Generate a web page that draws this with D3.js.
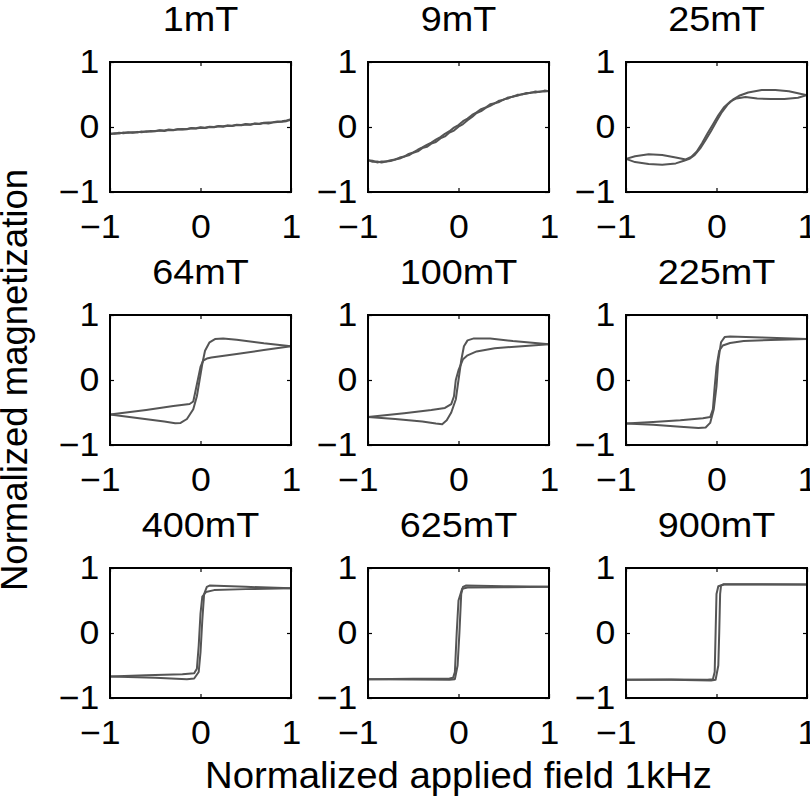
<!DOCTYPE html>
<html>
<head>
<meta charset="utf-8">
<script src="https://cdn.jsdelivr.net/npm/d3@7"></script>
<style>
  html, body { margin: 0; padding: 0; background: #fff; }
  svg { display: block; font-family: "Liberation Sans", Arial, Helvetica, sans-serif; }
</style>
</head>
<body>
<script>
// ---------------- DATA ----------------
const panelTitles = ["1mT", "9mT", "25mT", "64mT", "100mT", "225mT", "400mT", "625mT", "900mT"];
const xTickValues = [-1, 0, 1];
const yTickValues = [-1, 0, 1];
const xAxisLabel = "Normalized applied field 1kHz";
const yAxisLabel = "Normalized magnetization";

// field grid used by the two low-field (noisy) panels
const fieldGrid = [-1, -0.95, -0.9, -0.85, -0.8, -0.75, -0.7, -0.65, -0.6, -0.55, -0.5, -0.45, -0.4, -0.35, -0.3, -0.25, -0.2, -0.15, -0.1, -0.05, 0,
  0.05, 0.1, 0.15, 0.2, 0.25, 0.3, 0.35, 0.4, 0.45, 0.5, 0.55, 0.6, 0.65, 0.7, 0.75, 0.8, 0.85, 0.9, 0.95, 1];

// 1 mT
const m1mT_up = [-0.11, -0.095, -0.10, -0.085, -0.09, -0.08, -0.085, -0.07, -0.075, -0.06, -0.065, -0.055, -0.06, -0.045, -0.05, -0.035, -0.04, -0.03, -0.02, -0.025, -0.01,
  -0.015, 0.0, -0.005, 0.01, 0.005, 0.02, 0.015, 0.03, 0.025, 0.04, 0.035, 0.05, 0.045, 0.06, 0.055, 0.07, 0.075, 0.08, 0.09, 0.11];
const m1mT_down = [-0.10, -0.105, -0.09, -0.095, -0.08, -0.09, -0.075, -0.08, -0.065, -0.07, -0.06, -0.05, -0.055, -0.04, -0.045, -0.035, -0.03, -0.035, -0.015, -0.02, -0.005,
  -0.01, 0.005, 0.0, 0.015, 0.01, 0.025, 0.02, 0.035, 0.03, 0.045, 0.04, 0.055, 0.05, 0.065, 0.07, 0.075, 0.085, 0.09, 0.10, 0.12];

// 9 mT
const m9mT_up = [-0.51, -0.535, -0.53, -0.545, -0.53, -0.525, -0.5, -0.485, -0.455, -0.435, -0.395, -0.375, -0.325, -0.305, -0.255, -0.23, -0.175, -0.145, -0.085, -0.055, 0.005,
  0.045, 0.105, 0.155, 0.215, 0.245, 0.295, 0.325, 0.365, 0.385, 0.425, 0.44, 0.47, 0.48, 0.505, 0.51, 0.53, 0.53, 0.545, 0.545, 0.555];
const m9mT_down = [-0.51, -0.52, -0.545, -0.53, -0.53, -0.51, -0.5, -0.47, -0.455, -0.415, -0.39, -0.35, -0.315, -0.275, -0.24, -0.195, -0.155, -0.105, -0.065, -0.01, 0.03,
  0.09, 0.13, 0.185, 0.225, 0.275, 0.3, 0.35, 0.365, 0.405, 0.42, 0.455, 0.465, 0.495, 0.5, 0.525, 0.525, 0.545, 0.54, 0.56, 0.55];

// 25 mT  [field, magnetization]
const loop25mT_up = [[-1, -0.49], [-0.9, -0.54], [-0.75, -0.57], [-0.6, -0.58], [-0.45, -0.56], [-0.36, -0.52], [-0.3, -0.49], [-0.24, -0.43], [-0.18, -0.33],
  [-0.12, -0.2], [-0.06, -0.06], [0.0, 0.09], [0.06, 0.23], [0.12, 0.34], [0.18, 0.42], [0.25, 0.48], [0.35, 0.53], [0.5, 0.57], [0.65, 0.57], [0.8, 0.55], [0.9, 0.52], [1, 0.49]];
const loop25mT_down = [[1, 0.49], [0.9, 0.45], [0.75, 0.43], [0.6, 0.43], [0.45, 0.44], [0.32, 0.46], [0.22, 0.44], [0.15, 0.39], [0.08, 0.3], [0.02, 0.18],
  [-0.04, 0.04], [-0.1, -0.1], [-0.16, -0.25], [-0.22, -0.38], [-0.28, -0.46], [-0.34, -0.5], [-0.45, -0.47], [-0.6, -0.43], [-0.75, -0.42], [-0.9, -0.45], [-1, -0.49]];

// 64 mT
const loop64mT_up = [[-1, -0.53], [-0.7, -0.585], [-0.4, -0.64], [-0.28, -0.665], [-0.22, -0.66], [-0.15, -0.6], [-0.08, -0.45], [-0.04, -0.25], [-0.01, 0.0],
  [0.02, 0.25], [0.05, 0.45], [0.1, 0.58], [0.16, 0.63], [0.25, 0.64], [0.4, 0.62], [0.7, 0.565], [1, 0.52]];
const loop64mT_down = [[1, 0.52], [0.7, 0.46], [0.4, 0.4], [0.2, 0.36], [0.12, 0.345], [0.07, 0.33], [0.03, 0.3], [0.0, 0.2], [-0.03, 0.0], [-0.06, -0.2],
  [-0.08, -0.33], [-0.12, -0.37], [-0.3, -0.4], [-0.6, -0.46], [-1, -0.53]];

// 100 mT
const loop100mT_up = [[-1, -0.57], [-0.7, -0.6], [-0.4, -0.64], [-0.25, -0.67], [-0.18, -0.68], [-0.13, -0.62], [-0.08, -0.5], [-0.03, -0.3], [0.0, 0.0],
  [0.03, 0.3], [0.06, 0.52], [0.1, 0.61], [0.17, 0.64], [0.35, 0.64], [0.6, 0.6], [1, 0.55]];
const loop100mT_down = [[1, 0.55], [0.7, 0.52], [0.4, 0.49], [0.2, 0.44], [0.1, 0.38], [0.05, 0.32], [0.0, 0.15], [-0.03, 0.0], [-0.05, -0.25], [-0.08, -0.37],
  [-0.15, -0.43], [-0.3, -0.46], [-0.6, -0.51], [-1, -0.57]];

// 225 mT
const loop225mT_up = [[-1, -0.67], [-0.7, -0.69], [-0.4, -0.72], [-0.2, -0.74], [-0.12, -0.73], [-0.07, -0.66], [-0.03, -0.45], [0.0, -0.1], [0.02, 0.3],
  [0.05, 0.58], [0.09, 0.66], [0.15, 0.67], [0.5, 0.655], [1, 0.63]];
const loop225mT_down = [[1, 0.63], [0.6, 0.615], [0.3, 0.6], [0.15, 0.57], [0.07, 0.53], [0.03, 0.45], [0.0, 0.2], [-0.02, -0.1], [-0.04, -0.45], [-0.07, -0.57],
  [-0.15, -0.59], [-0.4, -0.62], [-0.7, -0.645], [-1, -0.67]];

// 400 mT
const loop400mT_up = [[-1, -0.67], [-0.5, -0.69], [-0.15, -0.71], [-0.07, -0.7], [-0.02, -0.6], [0.0, -0.3], [0.02, 0.2], [0.04, 0.6], [0.07, 0.71],
  [0.1, 0.73], [0.5, 0.71], [1, 0.69]];
const loop400mT_down = [[1, 0.69], [0.5, 0.675], [0.15, 0.66], [0.06, 0.63], [0.02, 0.56], [0.0, 0.3], [-0.02, -0.2], [-0.04, -0.55], [-0.07, -0.62],
  [-0.2, -0.635], [-0.6, -0.65], [-1, -0.67]];

// 625 mT
const loop625mT_up = [[-1, -0.71], [-0.5, -0.715], [-0.1, -0.72], [-0.04, -0.71], [-0.01, -0.5], [0.01, 0.0], [0.03, 0.6], [0.05, 0.71], [0.08, 0.73],
  [0.5, 0.72], [1, 0.71]];
const loop625mT_down = [[1, 0.71], [0.5, 0.705], [0.1, 0.7], [0.04, 0.68], [0.0, 0.5], [-0.02, 0.0], [-0.04, -0.6], [-0.06, -0.69], [-0.1, -0.7],
  [-0.5, -0.705], [-1, -0.71]];

// 900 mT
const loop900mT_up = [[-1, -0.72], [-0.5, -0.72], [-0.06, -0.73], [-0.01, -0.72], [0.02, -0.5], [0.03, 0.0], [0.04, 0.6], [0.05, 0.73], [0.08, 0.75],
  [0.5, 0.75], [1, 0.745]];
const loop900mT_down = [[1, 0.745], [0.5, 0.745], [0.08, 0.745], [0.02, 0.72], [0.0, 0.6], [-0.01, 0.0], [-0.02, -0.6], [-0.04, -0.71], [-0.1, -0.72],
  [-0.5, -0.715], [-1, -0.72]];

// ---------------- BUILD ----------------
const pair = vals => fieldGrid.map((h, i) => [h, vals[i]]);
const panels = [
  { title: panelTitles[0], branches: [pair(m1mT_up), pair(m1mT_down)] },
  { title: panelTitles[1], branches: [pair(m9mT_up), pair(m9mT_down)] },
  { title: panelTitles[2], branches: [loop25mT_up, loop25mT_down] },
  { title: panelTitles[3], branches: [loop64mT_up, loop64mT_down] },
  { title: panelTitles[4], branches: [loop100mT_up, loop100mT_down] },
  { title: panelTitles[5], branches: [loop225mT_up, loop225mT_down] },
  { title: panelTitles[6], branches: [loop400mT_up, loop400mT_down] },
  { title: panelTitles[7], branches: [loop625mT_up, loop625mT_down] },
  { title: panelTitles[8], branches: [loop900mT_up, loop900mT_down] }
];

const W = 810, H = 801;
const colX = [110, 368, 626];
const rowY = [62, 315, 568];
const pw = 181, ph = 130;
const tickFont = 33, titleFont = 35, labelFont = 36.5;
const stretch = 1.08;   // the reference text is slightly wider than tall
const fmt = d => d < 0 ? "\u2212" + Math.abs(d) : String(d);

const svg = d3.select("body").append("svg").attr("width", W).attr("height", H);

panels.forEach((p, i) => {
  const col = i % 3, row = Math.floor(i / 3);
  const g = svg.append("g").attr("transform", `translate(${colX[col]},${rowY[row]})`);
  const x = d3.scaleLinear().domain([-1, 1]).range([0, pw]);
  const y = d3.scaleLinear().domain([-1, 1]).range([ph, 0]);
  const line = d3.line().x(d => x(d[0])).y(d => y(d[1]));

  g.selectAll("path.curve").data(p.branches).enter().append("path")
    .attr("class", "curve")
    .attr("d", line)
    .attr("fill", "none")
    .attr("stroke", "#555")
    .attr("stroke-width", 2)
    .attr("stroke-linejoin", "round");

  const styleAxis = sel => {
    sel.select(".domain").remove();
    sel.selectAll(".tick line").attr("stroke", "#000").attr("stroke-width", 1.2);
    sel.selectAll(".tick text").attr("fill", "#000").attr("font-size", tickFont)
      .attr("font-family", "'Liberation Sans', Arial, sans-serif")
      .attr("transform", `scale(${stretch},1)`);
  };

  g.append("g").attr("transform", `translate(0,${ph})`)
    .call(d3.axisBottom(x).tickValues(xTickValues).tickFormat(fmt).tickSizeInner(-4).tickSizeOuter(0).tickPadding(23))
    .call(styleAxis)
    .call(sel => sel.selectAll(".tick text").attr("dx", d => d < 0 ? "-0.29em" : null));
  g.append("g")
    .call(d3.axisTop(x).tickValues(xTickValues).tickFormat("").tickSizeInner(-4).tickSizeOuter(0))
    .call(styleAxis);
  g.append("g")
    .call(d3.axisLeft(y).tickValues(yTickValues).tickFormat(fmt).tickSizeInner(-4).tickSizeOuter(0).tickPadding(10))
    .call(styleAxis);
  g.append("g").attr("transform", `translate(${pw},0)`)
    .call(d3.axisRight(y).tickValues(yTickValues).tickFormat("").tickSizeInner(-4).tickSizeOuter(0))
    .call(styleAxis);

  g.append("rect").attr("x", 0).attr("y", 0).attr("width", pw).attr("height", ph)
    .attr("fill", "none").attr("stroke", "#000").attr("stroke-width", 2);

  g.append("text")
    .attr("transform", `translate(${pw / 2},-31) scale(${stretch},1)`)
    .attr("text-anchor", "middle").attr("font-size", titleFont).attr("fill", "#000")
    .text(p.title);
});

svg.append("text")
  .attr("transform", `translate(${(colX[0] + colX[2] + pw) / 2},788) scale(1.05,1)`)
  .attr("text-anchor", "middle").attr("font-size", labelFont).attr("fill", "#000")
  .text(xAxisLabel);

svg.append("text")
  .attr("transform", `translate(27,${(rowY[0] + rowY[2] + ph) / 2}) rotate(-90)`)
  .attr("text-anchor", "middle").attr("font-size", labelFont).attr("fill", "#000")
  .text(yAxisLabel);
</script>
</body>
</html>
